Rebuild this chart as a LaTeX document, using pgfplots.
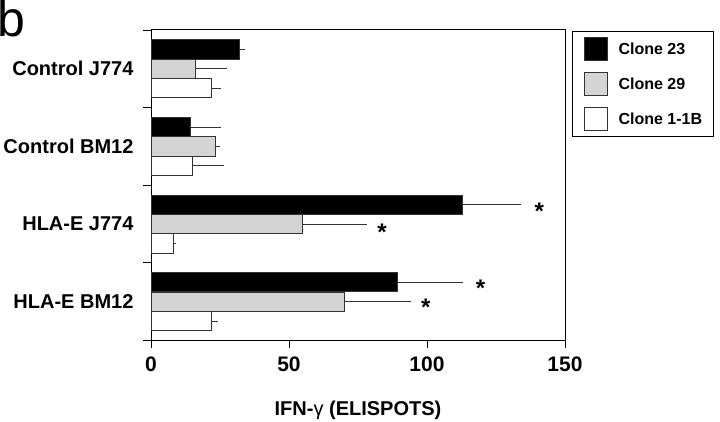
\documentclass[border=0pt]{standalone}
\usepackage{fontspec}
\setmainfont{Liberation Sans}
\usepackage{pgfplots}
\pgfplotsset{compat=1.18}
\definecolor{barline}{HTML}{333333}
\definecolor{midgray}{HTML}{D4D4D4}
\begin{document}
\begin{tikzpicture}[x=1pt,y=1pt]
\useasboundingbox (0,0) rectangle (720,422);
\node[anchor=base west, inner sep=0pt, font=\fontsize{50}{50}\selectfont] at (-2.4,385) {b};
\begin{axis}[
  at={(151pt,81.5pt)}, anchor=south west,
  scale only axis, width=414pt, height=310.5pt,
  xmin=0, xmax=150, ymin=-0.5, ymax=3.5,
  bar width=19.3pt,
  axis line style={black, line width=1pt},
  xtick={0,50,100,150},
  ytick={0,1,2,3},
  yticklabels={HLA-E BM12, HLA-E J774, Control BM12, Control J774},
  minor ytick={-0.5,0.5,1.5,2.5,3.5},
  tick align=outside, xtick pos=bottom, ytick pos=left,
  major tick length=8pt, minor tick length=8pt,
  tick style={black, line width=0.8pt},
  major y tick style={draw=none},
  /pgf/number format/assume math mode=true,
  xticklabel style={font=\bfseries\fontsize{21}{21}\selectfont, yshift=-5pt},
  yticklabel style={font=\bfseries\fontsize{20}{20}\selectfont, xshift=-6pt},
  xlabel={IFN-{\mdseries γ} (ELISPOTS)},
  xlabel style={font=\bfseries\fontsize{20}{20}\selectfont, yshift=-22pt},
  legend style={at={(1,1)}, anchor=north west, xshift=7pt, yshift=-1pt,
    draw=black, line width=1pt, inner xsep=11pt, inner ysep=5.5pt,
    row sep=11pt, font=\bfseries\fontsize{16}{16}\selectfont,
    nodes={inner sep=0pt}},
  legend cell align=left,
  legend style={/tikz/every odd column/.append style={column sep=11pt}},
  legend image code/.code={\draw[#1,line width=1pt] (0pt,-11.5pt) rectangle (23pt,11.5pt);},
]
\addplot[xbar, bar shift=0pt, fill=black, draw=barline, line width=1pt,
  error bars/.cd, x dir=plus, x explicit, error mark=none,
  error bar style={barline, line width=1pt}]
  coordinates {(32.2,3.25) +- (2.0,0) (14.2,2.25) +- (11.1,0) (113,1.25) +- (21,0) (89.2,0.25) +- (23.8,0)};
\addlegendentry{Clone 23}
\addplot[xbar, bar shift=0pt, fill=midgray, draw=barline, line width=1pt,
  error bars/.cd, x dir=plus, x explicit, error mark=none,
  error bar style={barline, line width=1pt}]
  coordinates {(16.0,3) +- (11.4,0) (23.2,2) +- (1.8,0) (55,1) +- (23.3,0) (70,0) +- (24.2,0)};
\addlegendentry{Clone 29}
\addplot[xbar, bar shift=0pt, fill=white, draw=barline, line width=1pt,
  error bars/.cd, x dir=plus, x explicit, error mark=none,
  error bar style={barline, line width=1pt}]
  coordinates {(22.1,2.75) +- (3.2,0) (15.1,1.75) +- (11.3,0) (8,0.75) +- (1,0) (22.1,-0.25) +- (2.2,0)};
\addlegendentry{Clone 1-1B}
\addplot[only marks, mark=text, text mark={\bfseries\fontsize{24}{24}\selectfont *}, forget plot]
  coordinates {(140.7,1.17) (83.7,0.90) (119.4,0.17) (99.6,-0.07)};
\end{axis}
\end{tikzpicture}
\end{document}
